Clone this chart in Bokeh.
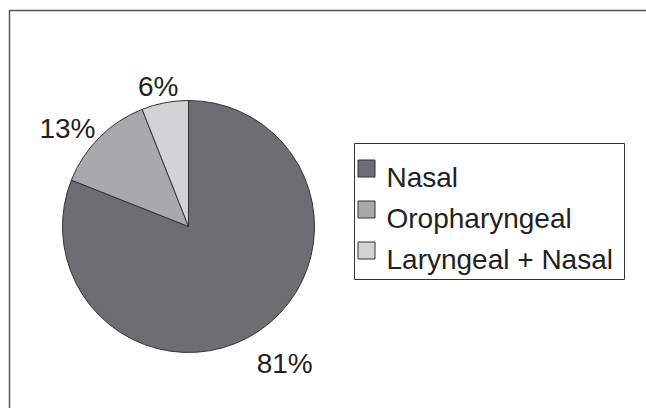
import math
from bokeh.plotting import figure
from bokeh.models import Range1d, ColumnDataSource
from bokeh.core.properties import value
from bokeh.embed import file_html
from bokeh.resources import INLINE

categories = ["Nasal", "Oropharyngeal", "Laryngeal + Nasal"]
shares = [81, 13, 6]
labels = ["81%", "13%", "6%"]
colors = ["#6d6e71", "#a7a9ac", "#d1d3d4"]

W, H = 646, 408
FONT = value("Liberation Sans")
TXT = "#231f20"

def X(px):
    return px

def Y(py):
    return H - py

p = figure(width=W, height=H, output_backend="svg", toolbar_location=None,
           x_range=Range1d(0, W), y_range=Range1d(0, H),
           x_axis_location=None, y_axis_location=None, min_border=0)
p.outline_line_color = None
p.grid.visible = False
p.background_fill_color = "white"
p.border_fill_color = "white"

# outer border (top and left visible)
p.line([X(9), X(9), X(700)], [Y(500), Y(10), Y(10)], line_color="#555555", line_width=1.5)

cx, cy, R = X(188), Y(226), 126
total = float(sum(shares))
starts, ends, lx, ly = [], [], [], []
cum = 0.0
for s, lab in zip(shares, labels):
    f = s / total
    a0 = math.pi / 2 - 2 * math.pi * cum
    a1 = math.pi / 2 - 2 * math.pi * (cum + f)
    starts.append(a0)
    ends.append(a1)
    th = math.pi / 2 - 2 * math.pi * (cum + f / 2)
    hw, hh, r = 9.4 * len(lab), 10.5, 143
    lx.append(cx + r * math.cos(th) + hw * math.cos(th))
    ly.append(cy + r * math.sin(th) + hh * math.sin(th) - hh)
    cum += f

src = ColumnDataSource(dict(cat=categories, start=starts, end=ends, color=colors,
                            lab=labels, lx=lx, ly=ly))
p.wedge(x=cx, y=cy, radius=R, start_angle="start", end_angle="end", direction="clock",
        fill_color="color", line_color="#333333", line_width=1, source=src)
p.text(x="lx", y="ly", text="lab", source=src, text_font=FONT, text_font_size="28px",
       text_color=TXT, text_align="center", text_baseline="alphabetic")

# legend box
lx0, lx1, ly0, ly1 = 354, 624, 143, 279
p.quad(left=X(lx0), right=X(lx1), top=Y(ly0), bottom=Y(ly1), fill_color="white",
       line_color="#333333", line_width=1)
row_base = [177, 218, 259]
sq_y = [Y(b - 9) for b in row_base]
p.rect(x=[X(366)] * 3, y=sq_y, width=17, height=17, fill_color=colors,
       line_color="#333333", line_width=1)
p.text(x=[X(386)] * 3, y=[Y(b) for b in row_base], text=categories, text_font=FONT,
       text_font_size="28px", text_color=TXT, text_align="left", text_baseline="alphabetic")

open("out.html", "w").write(file_html(p, INLINE))
